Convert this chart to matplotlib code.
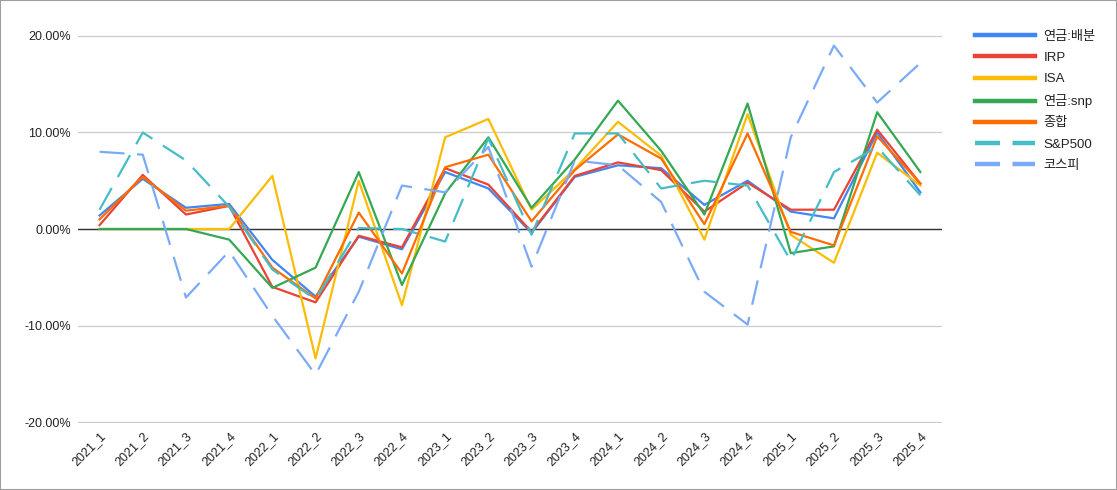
"""
Quarterly returns by account vs. benchmarks (line chart).
"""
import matplotlib
matplotlib.use('Agg')
import matplotlib.pyplot as plt
from matplotlib.lines import Line2D
from matplotlib.patches import Rectangle
from matplotlib.ticker import FuncFormatter

plt.rcParams['font.family'] = ['Liberation Sans', 'Noto Sans CJK KR', 'DejaVu Sans']
plt.rcParams['lines.scale_dashes'] = False

quarters = ['2021_1', '2021_2', '2021_3', '2021_4',
            '2022_1', '2022_2', '2022_3', '2022_4',
            '2023_1', '2023_2', '2023_3', '2023_4',
            '2024_1', '2024_2', '2024_3', '2024_4',
            '2025_1', '2025_2', '2025_3', '2025_4']

# returns in percent
pension_alloc = [1.4, 5.2, 2.2, 2.6, -3.2, -7.0, -0.8, -2.1, 5.9, 4.2,
                 -0.4, 5.4, 6.6, 6.3, 2.5, 5.0, 1.8, 1.1, 10.0, 3.8]
irp = [0.4, 5.6, 1.5, 2.4, -6.0, -7.6, -0.7, -1.9, 6.3, 4.6,
       -0.3, 5.5, 6.9, 6.1, 1.8, 4.8, 2.0, 2.0, 10.3, 4.7]
isa = [0.0, 0.0, 0.0, 0.0, 5.5, -13.4, 5.0, -7.9, 9.5, 11.4,
       2.0, 6.2, 11.1, 7.6, -1.1, 11.9, -0.6, -3.5, 7.9, 4.5]
pension_snp = [0.0, 0.0, 0.0, -1.1, -6.1, -4.0, 5.9, -5.8, 3.7, 9.5,
               2.2, 7.2, 13.3, 8.1, 1.5, 13.0, -2.5, -1.8, 12.1, 5.9]
total = [1.0, 5.4, 1.9, 2.4, -4.0, -7.2, 1.7, -4.6, 6.4, 7.7,
         0.8, 6.1, 9.8, 7.3, 0.5, 9.9, -0.3, -1.7, 9.6, 4.7]
sp500 = [2.0, 10.0, 7.1, 2.3, -4.2, -7.3, 0.1, 0.0, -1.3, 9.4,
         -0.6, 9.9, 9.9, 4.2, 5.0, 4.5, -3.3, 5.9, 8.5, 3.5]
kospi = [8.0, 7.7, -7.1, -2.3, -9.0, -15.1, -6.5, 4.5, 3.8, 8.5,
         -3.9, 7.1, 6.6, 2.8, -6.5, -9.9, 9.5, 19.0, 13.1, 17.2]

SERIES = [
    ('연금:배분', pension_alloc, '#4285F4', None),
    ('IRP', irp, '#EA4335', None),
    ('ISA', isa, '#FBBC04', None),
    ('연금:snp', pension_snp, '#34A853', None),
    ('종합', total, '#FF6D01', None),
    ('S&P500', sp500, '#46BDC6', (18, 9)),
    ('코스피', kospi, '#7BAAF7', (18, 9)),
]

fig = plt.figure(figsize=(11.17, 4.9), dpi=100)
ax = fig.add_axes([0.0698, 0.1367, 0.7735, 0.7919])

x = list(range(len(quarters)))
ax.axhline(0, color='#333333', linewidth=1.0, zorder=2)

handles = []
for label, vals, color, dash in SERIES:
    kw = dict(color=color, linewidth=1.6, zorder=3)
    if dash:
        kw['dashes'] = dash
    ax.plot(x, vals, **kw)
    hkw = dict(color=color, linewidth=3.2)
    if dash:
        hkw['dashes'] = dash
    handles.append(Line2D([0], [0], label=label, **hkw))

ax.set_xlim(-0.5, len(quarters) - 0.5)
ax.set_ylim(-20.1, 20.1)
ax.set_yticks([-20, -10, 0, 10, 20])
ax.yaxis.set_major_formatter(FuncFormatter(lambda v, p: f'{v:.2f}%'))
ax.set_xticks(x)
ax.set_xticklabels(quarters, rotation=45, ha='right', rotation_mode='anchor')
ax.tick_params(axis='both', length=0, labelsize=9, colors='#222222', pad=5)
ax.grid(True, axis='y', color='#cccccc', linewidth=0.9, zorder=1)
for s in ax.spines.values():
    s.set_visible(False)

fig.legend(handles=handles, loc='upper left', bbox_to_anchor=(0.862, 0.962),
           frameon=False, fontsize=9.5, handlelength=4.6, handletextpad=0.6,
           labelspacing=0.68, labelcolor='#222222')

fig.add_artist(Rectangle((0, 0), 1, 1, transform=fig.transFigure, fill=False,
                         edgecolor='#9e9e9e', linewidth=1.5))

fig.savefig('out.png', dpi=100)
plt.close(fig)
